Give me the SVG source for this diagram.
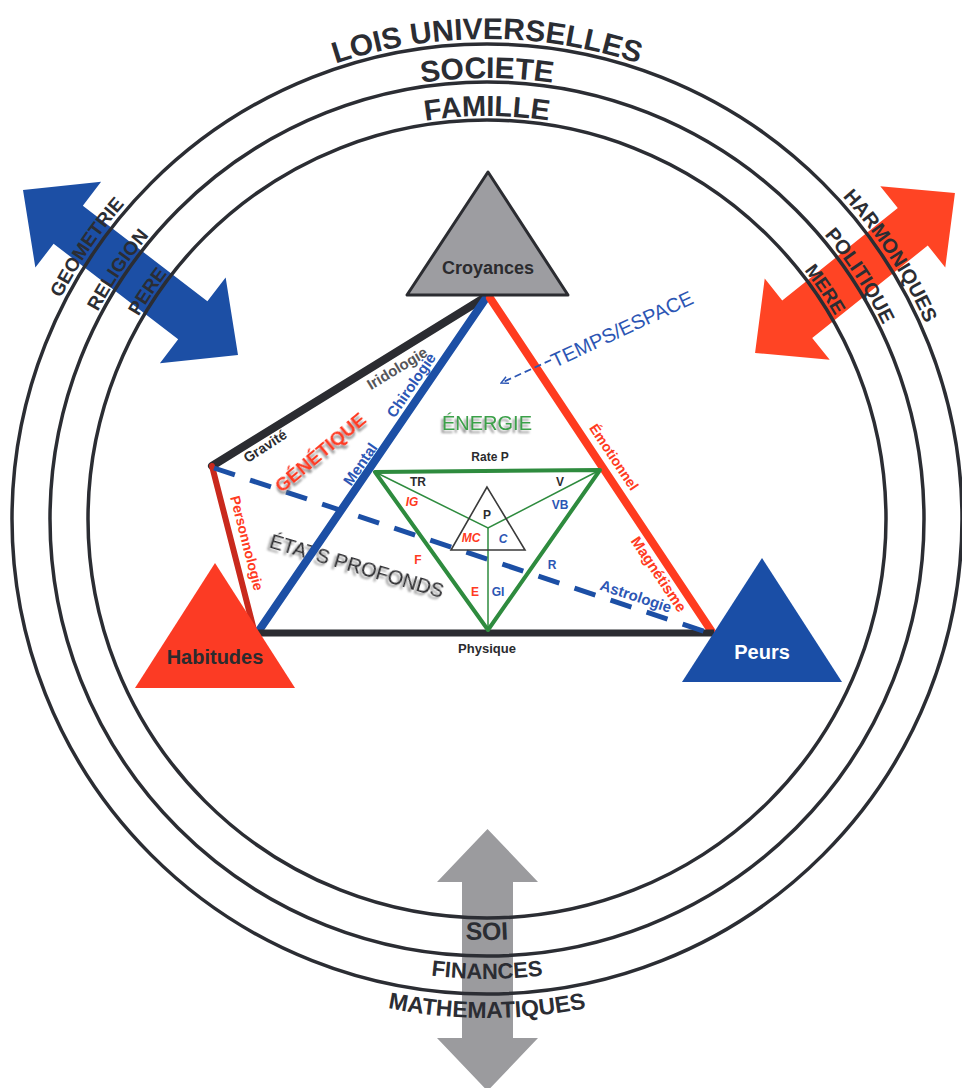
<svg xmlns="http://www.w3.org/2000/svg" width="962" height="1088" viewBox="0 0 962 1088">
<defs>
<style>
.circ{fill:none;stroke:#2b2d33;stroke-width:3.5}
.ring{font-family:"Liberation Sans",Arial,sans-serif;font-weight:bold;fill:#2b2d33}
.t{font-family:"Liberation Sans",Arial,sans-serif;dominant-baseline:central;text-anchor:middle}
.b{font-weight:bold}
.dk{fill:#2b2b2e}
.bl{fill:#2c56b4}
.rd{fill:#ff3a22}
.ln{fill:none;stroke-linecap:round}
.shd{filter:url(#shadow)}
</style>
<filter id="shadow" x="-20%" y="-50%" width="140%" height="200%">
<feDropShadow dx="-2" dy="3" stdDeviation="1.3" flood-color="#6a6a6a" flood-opacity="0.75"/>
</filter>
<path id="cw1" d="M7,519 A480,480 0 1 1 967,519 A480,480 0 1 1 7,519"/>
<path id="cw2" d="M46,519 A441,441 0 1 1 928,519 A441,441 0 1 1 46,519"/>
<path id="cw3" d="M84,519 A403,403 0 1 1 890,519 A403,403 0 1 1 84,519"/>
<path id="bt1" d="M66,519 A421,421 0 0 0 908,519"/>
<path id="bt2" d="M27,519 A460,460 0 0 0 947,519"/>
<path id="bt3" d="M-12,519 A499,499 0 0 0 986,519"/>
<marker id="open" viewBox="0 0 10 10" refX="9" refY="5" markerWidth="9" markerHeight="9" orient="auto" markerUnits="userSpaceOnUse">
<path d="M1,1 L9,5 L1,9" fill="none" stroke="#2c56b4" stroke-width="1.6"/>
</marker>
</defs>
<rect width="962" height="1088" fill="#ffffff"/>

<g id="arrow-left">
<polygon transform="translate(130.5,272.5) rotate(37.5)" points="-135.5,0 -78.5,-54 -78.5,-24 78.5,-24 78.5,-54 135.5,0 78.5,54 78.5,24 -78.5,24 -78.5,54" fill="#1c4fa5"/>
</g>
<g id="arrow-right">
<polygon transform="translate(855,273) rotate(-38.66)" points="-128,0 -74,-52 -74,-24 74,-24 74,-52 128,0 74,52 74,24 -74,24 -74,52" fill="#ff4424"/>
</g>
<g id="arrow-bottom">
<polygon points="487.5,829 538,882 513,882 513,1038 538,1038 487.5,1091 437,1038 462,1038 462,882 437,882" fill="#9b9b9e"/>
</g>

<g id="rings">
<circle class="circ" cx="487" cy="519" r="475"/>
<circle class="circ" cx="487" cy="519" r="437"/>
<circle class="circ" cx="487" cy="519" r="399"/>
</g>

<g id="ring-labels">
<text class="ring" font-size="30"><textPath href="#cw1" startOffset="25%" text-anchor="middle">LOIS UNIVERSELLES</textPath></text>
<text class="ring" font-size="30"><textPath href="#cw2" startOffset="25%" text-anchor="middle">SOCIETE</textPath></text>
<text class="ring" font-size="29"><textPath href="#cw3" startOffset="25%" text-anchor="middle">FAMILLE</textPath></text>
<text class="ring" font-size="19"><textPath href="#cw1" startOffset="9.5%" text-anchor="middle">GEOMETRIE</textPath></text>
<text class="ring" font-size="19"><textPath href="#cw2" startOffset="9.45%" text-anchor="middle">RELIGION</textPath></text>
<text class="ring" font-size="19"><textPath href="#cw3" startOffset="9.4%" text-anchor="middle">PERE</textPath></text>
<text class="ring" font-size="20"><textPath href="#cw1" startOffset="40.8%" text-anchor="middle">HARMONIQUES</textPath></text>
<text class="ring" font-size="20"><textPath href="#cw2" startOffset="40.8%" text-anchor="middle">POLITIQUE</textPath></text>
<text class="ring" font-size="19"><textPath href="#cw3" startOffset="40.5%" text-anchor="middle">MERE</textPath></text>
<text class="ring" font-size="25"><textPath href="#bt1" startOffset="50%" text-anchor="middle">SOI</textPath></text>
<text class="ring" font-size="22"><textPath href="#bt2" startOffset="50%" text-anchor="middle">FINANCES</textPath></text>
<text class="ring" font-size="23"><textPath href="#bt3" startOffset="50%" text-anchor="middle">MATHEMATIQUES</textPath></text>
</g>

<g id="etats-profonds">
<text class="t dk shd" transform="translate(357,566) rotate(16.4)" font-size="20">ÉTATS PROFONDS</text>
</g>

<g id="connectors">
<line class="ln" x1="484" y1="298" x2="212" y2="466" stroke="#2b2c31" stroke-width="8"/>
<line class="ln" x1="212" y1="466" x2="254" y2="630" stroke="#c9291d" stroke-width="6"/>
<line class="ln" x1="486" y1="298" x2="258" y2="632" stroke="#1c4fa5" stroke-width="8"/>
<line class="ln" x1="490" y1="298" x2="712" y2="632" stroke="#ff3b1f" stroke-width="8"/>
<line x1="258" y1="633" x2="714" y2="633" stroke="#2b2c31" stroke-width="7"/>
<line x1="214" y1="468" x2="712" y2="634" stroke="#1c4fa5" stroke-width="5" stroke-dasharray="22 16"/>
<polygon points="375,472 600,470 488,630" fill="none" stroke="#2e8b3e" stroke-width="4" stroke-linejoin="round"/>
<polyline points="375,472 488,528 600,470" fill="none" stroke="#2e8b3e" stroke-width="1.5"/>
<line x1="488" y1="528" x2="488" y2="630" stroke="#2e8b3e" stroke-width="1.5"/>
<polygon points="487,487 451,550 525,550" fill="none" stroke="#3a3a3a" stroke-width="1.6"/>
<line x1="551" y1="360" x2="501" y2="383" stroke="#2c56b4" stroke-width="1.8" stroke-dasharray="7 4" marker-end="url(#open)"/>
</g>

<g id="croyances">
<polygon points="488,172 407,295 568,295" fill="#9d9da1" stroke="#2b2c31" stroke-width="3" stroke-linejoin="round"/>
<text class="t b dk" x="488" y="268" font-size="18">Croyances</text>
</g>
<g id="habitudes">
<polygon points="215,563 135,688 295,688" fill="#fc3b24"/>
<text class="t b dk" x="215" y="657" font-size="20">Habitudes</text>
</g>
<g id="peurs">
<polygon points="762,558 682,682 842,682" fill="#1a4ea6"/>
<text class="t b" x="762" y="652" font-size="20" fill="#ffffff">Peurs</text>
</g>

<g id="labels">
<text class="t b dk" x="487" y="648" font-size="13">Physique</text>
<text class="t b dk" x="490" y="457" font-size="12">Rate P</text>
<text class="t shd" x="487" y="423" font-size="20" fill="#3aa048">ÉNERGIE</text>
<text class="t bl" transform="translate(622,329) rotate(-25)" font-size="20">TEMPS/ESPACE</text>
<text class="t b" transform="translate(397,368) rotate(-31.3)" font-size="15" fill="#555558">Iridologie</text>
<text class="t b dk" transform="translate(265,446) rotate(-33)" font-size="14">Gravité</text>
<text class="t b rd shd" transform="translate(320,452) rotate(-40)" font-size="19">GÉNÉTIQUE</text>
<text class="t b bl" transform="translate(360,464) rotate(-55.5)" font-size="15">Mental</text>
<text class="t b bl" transform="translate(411,385) rotate(-55.5)" font-size="15">Chirologie</text>
<text class="t b rd" transform="translate(247,543) rotate(75.6)" font-size="14">Personnologie</text>
<text class="t b rd" transform="translate(614,457) rotate(56.2)" font-size="14">Émotionnel</text>
<text class="t b rd" transform="translate(659,574) rotate(56.2)" font-size="15">Magnétisme</text>
<text class="t b bl" transform="translate(636,596) rotate(18.4)" font-size="15">Astrologie</text>
<text class="t b bl" x="552" y="565" font-size="12">R</text>
<text class="t b dk" x="418" y="482" font-size="12">TR</text>
<text class="t b dk" x="560" y="482" font-size="12">V</text>
<text class="t b rd" x="412" y="502" font-size="12" font-style="italic">IG</text>
<text class="t b bl" x="560" y="505" font-size="12">VB</text>
<text class="t b dk" x="487" y="515" font-size="12">P</text>
<text class="t b rd" x="471" y="538" font-size="12" font-style="italic">MC</text>
<text class="t b bl" x="503" y="539" font-size="12" font-style="italic">C</text>
<text class="t b rd" x="418" y="560" font-size="12">F</text>
<text class="t b rd" x="475" y="592" font-size="12">E</text>
<text class="t b bl" x="498" y="592" font-size="12">GI</text>
</g>
</svg>
